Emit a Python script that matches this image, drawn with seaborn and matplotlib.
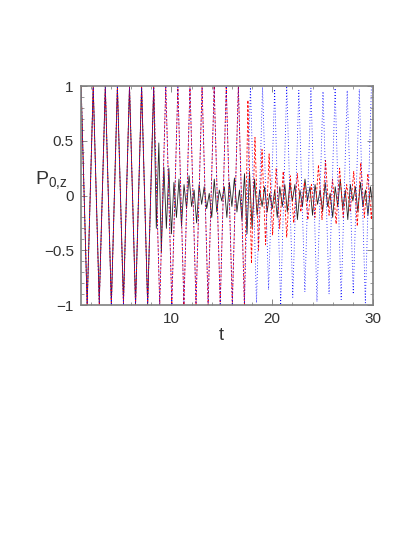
import numpy as np
import pandas as pd
import matplotlib
matplotlib.use("Agg")
import matplotlib.pyplot as plt
from matplotlib.ticker import MultipleLocator
import seaborn as sns

# --- data ---

# turning points of the fast Rabi-like oscillation (step 0.6 in t, first point t=1.04)
osc_start, osc_step = 1.04, 0.6

blue_osc = [1, -1, 1, -1, 1, -1, 1, -1, 1, -1,
            1, -1, 1, -1, 1, -1, 1, -1, 1, -1,
            1, -1, 1, -1, 1, -1, 1, -1, 1, -0.98,
            0.99, -0.86, 0.97, -1, 1, -0.93, 0.96, -0.88, 0.98, -0.97,
            0.95, -0.9, 0.98, -0.95, 0.96, -0.9, 0.97, -0.98, 0.99]

red_osc = [1, -1, 1, -1, 1, -1, 1, -1, 1, -1,
           1, -1, 1, -1, 1, -1, 1, -1, 1, -1,
           1, -1, 1, -1, 1, -1, 1, -1]

black_osc = [1, -1, 1, -0.97, 1, -1, 1, -0.97, 1, -1,
             1, -1, 1]

# red tail after the collapse (step 0.35 from t=17.24)
red_tail_start, red_tail_step = 17.24, 0.35
red_tail = [-1, 0.87, -0.62, 0.53, -0.5, 0.42, -0.45, 0.38, -0.36, 0.25,
            -0.3, 0.22, -0.38, 0.18, -0.25, 0.2, -0.15, 0.12, -0.22, 0.1,
            -0.2, 0.28, -0.22, 0.32, -0.18, 0.15, -0.26, 0.25, -0.2, 0.1,
            -0.15, 0.22, -0.28, 0.3, -0.2, 0.2, -0.22, 0.4]

# black noise after the collapse (step 0.25 from t=8.5)
black_tail_start, black_tail_step = 8.5, 0.25
black_tail = [-0.3, 0.48, -0.52, 0.26, -0.3, 0.25, -0.35, 0.12, -0.2, 0.15,
              -0.28, 0.1, -0.12, 0.18, -0.1, 0.05, -0.25, 0.1, -0.08, 0.08,
              -0.12, 0.02, -0.2, 0.15, -0.15, 0.05, -0.05, 0.08, -0.2, 0.12,
              -0.1, 0.16, -0.15, 0.05, -0.22, 0.2, -0.35, 0.22, -0.3, 0.15,
              -0.18, 0.05, -0.1, 0.08, -0.15, 0.02, -0.12, 0.05, -0.2, 0.08,
              -0.1, 0.1, -0.15, 0.12, -0.05, 0.1, -0.22, 0.05, -0.1, 0.15,
              -0.05, 0.08, -0.18, 0.1, -0.08, 0.05, -0.15, 0.12, -0.1, 0.02,
              -0.2, 0.08, -0.1, 0.15, -0.12, 0.05, -0.22, 0.1, -0.05, 0.08,
              -0.15, 0.12, -0.1, 0.05, -0.18, 0.08, -0.12]

x_ticks = [10, 20, 30]
y_ticks = [-1, -0.5, 0, 0.5, 1]
y_tick_labels = ["\u22121", "\u22120.5", "0", "0.5", "1"]


def series(start, step, values):
    t = start + step * np.arange(len(values))
    return pd.DataFrame({"t": t, "P": values})


black_df = pd.concat([series(osc_start, osc_step, black_osc),
                      series(black_tail_start, black_tail_step, black_tail)])
red_df = pd.concat([series(osc_start, osc_step, red_osc),
                    series(red_tail_start, red_tail_step, red_tail)])
blue_df = series(osc_start, osc_step, blue_osc)

# --- plot ---
sns.set_style("ticks")
plt.rcParams["font.family"] = ["Liberation Sans", "DejaVu Sans"]
plt.rcParams["mathtext.default"] = "regular"

fig = plt.figure(figsize=(4.15, 5.37), dpi=100)
ax = fig.add_axes([0.1945, 0.432, 0.7043, 0.4078])

sns.lineplot(data=black_df, x="t", y="P", ax=ax, color="#222222", lw=0.6,
             sort=False, estimator=None)
sns.lineplot(data=red_df, x="t", y="P", ax=ax, color="red", lw=0.6,
             linestyle=(0, (3, 2)), sort=False, estimator=None)
sns.lineplot(data=blue_df, x="t", y="P", ax=ax, color="blue", lw=0.6,
             linestyle=(0, (1, 2.5)), sort=False, estimator=None)

ax.set_xlim(1, 30)
ax.set_ylim(-1, 1)
ax.set_xticks(x_ticks)
ax.set_yticks(y_ticks)
ax.set_yticklabels(y_tick_labels)
ax.xaxis.set_minor_locator(MultipleLocator(2))
ax.yaxis.set_minor_locator(MultipleLocator(0.1))
ax.tick_params(which="both", direction="in", top=True, right=True,
               color="#888888", labelsize=11, labelcolor="#333333")
ax.tick_params(which="major", length=4, width=0.7, pad=5)
ax.tick_params(which="minor", length=2, width=0.6)
for s in ax.spines.values():
    s.set_color("#808080")
    s.set_linewidth(1.2)

ax.set_xlabel("t", fontsize=13, color="#333333")
ax.xaxis.set_label_coords(0.48, -0.1)
ax.set_ylabel("P$_{0{,}z}$", fontsize=14, rotation=0, color="#333333")
ax.yaxis.set_label_coords(-0.1, 0.52)

fig.savefig("out.png", dpi=100)
